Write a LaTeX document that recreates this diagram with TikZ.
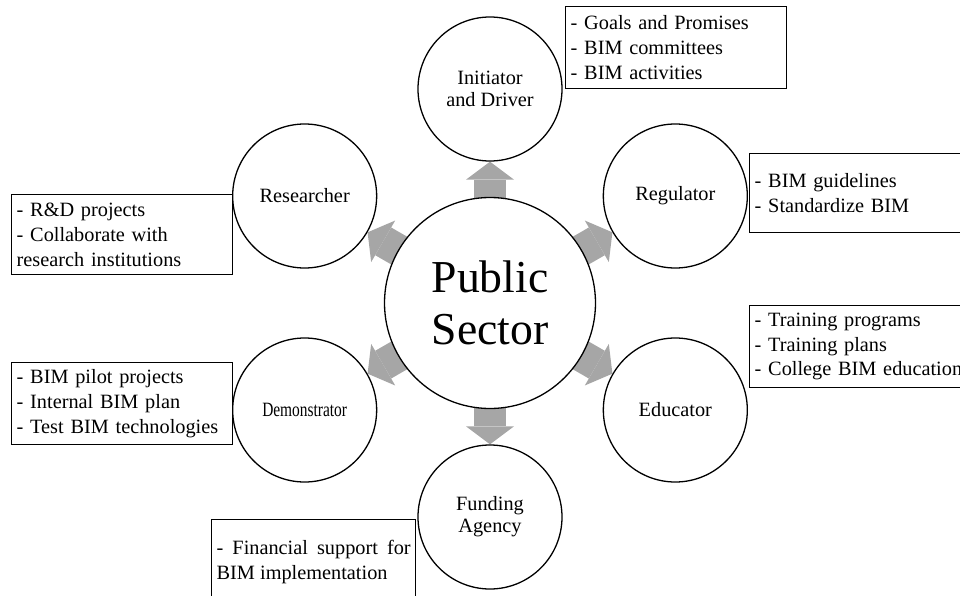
\documentclass[tikz,border=0pt]{standalone}
\usepackage{fontspec}
\setmainfont{Liberation Serif}
\usetikzlibrary{arrows.meta, backgrounds}
\definecolor{arrowgray}{RGB}{166,166,166}
\tikzset{
hub/.style={circle, draw, line width=1.3pt, fill=white, minimum size=211pt, inner sep=0pt, align=center, font=\fontsize{45.7}{52}\selectfont}, % the big circle in the middle
role/.style={circle, draw, line width=1.3pt, fill=white, minimum size=144pt, inner sep=0pt, align=center, font=\fontsize{20.3}{22}\selectfont}, % the six circles round it
duty/.style={draw, line width=1.4pt, anchor=north west, inner xsep=5pt, inner ysep=0pt, align=left, font=\fontsize{20.3}{24.7}\selectfont}, % boxes with the lists
push/.style={line width=32pt, arrowgray, -{Triangle[width=48pt, length=18pt, line width=0pt]}, shorten <=-8pt}, % grey block arrows
}
\begin{document}
\begin{tikzpicture}[x=1pt, y=1pt]
                \useasboundingbox (-490,-292) rectangle (470,303);
                \node[hub] (ps) at (0,0) {Public\\Sector};
                \node[role] (init) at (90:214) {Initiator\\and Driver};
                \node[role] (reg) at (30:214) {Regulator};
                \node[role] (edu) at (-30:214) {Educator};
                \node[role] (fund) at (-90:214) {Funding\\Agency};
                \node[role] (demo) at (210:214) {\scalebox{0.76}[1]{Demonstrator}};
                \node[role] (res) at (150:214) {Researcher};

                \node[duty, text width=211pt, minimum height=82pt] (goals) at (75,297) {- Goals and Promises\\- BIM committees\\- BIM activities};
                \node[duty, text width=230pt, minimum height=79pt] (rules) at (259,150) {- BIM guidelines\\- Standardize BIM};
                \node[duty, text width=230pt, minimum height=82pt] (train) at (259,-2) {- Training programs\\- Training plans\\- College BIM education};
                \node[duty, text width=211pt, minimum height=80pt] (rnd) at (-479,109) {- R\&D projects\\- Collaborate with\\research institutions};
                \node[duty, text width=211pt, minimum height=82pt] (pilot) at (-479,-59) {- BIM pilot projects\\- Internal BIM plan\\- Test BIM technologies};
                \node[duty, text width=194pt, minimum height=84pt, align=justify] (money) at (-279,-216) {- Financial support for BIM implementation};

                \begin{scope}[on background layer]
                \draw[push] (ps) -- (init);
                \draw[push] (ps) -- (reg);
                \draw[push] (ps) -- (edu);
                \draw[push] (ps) -- (fund);
                \draw[push] (ps) -- (demo);
                \draw[push] (ps) -- (res);
                \end{scope}
                \end{tikzpicture}
\end{document}
